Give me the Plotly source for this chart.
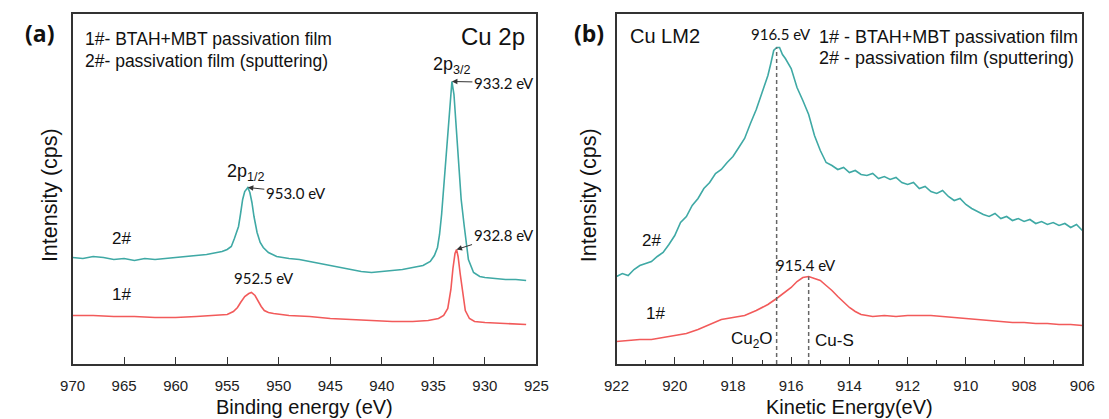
import plotly.graph_objects as go

# ---------------- Panel (a): Cu 2p (binding energy, eV) ----------------
be_2 = [970.0, 969.0, 968.0, 967.0, 966.0, 965.0, 964.0, 963.0, 962.0, 961.0,
        960.0, 959.0, 958.0, 957.0, 956.0, 955.5, 955.0, 954.6, 954.3, 953.9,
        953.7, 953.5, 953.3, 953.0, 952.8, 952.6, 952.4, 952.1, 951.8, 951.5,
        951.0, 950.2, 949.0, 948.0, 947.0, 946.0, 945.0, 944.0, 943.0, 942.0,
        941.0, 940.0, 939.0, 938.0, 937.0, 936.0, 935.3, 934.9, 934.6, 934.4,
        934.2, 934.0, 933.8, 933.6, 933.4, 933.2, 933.0, 932.9, 932.6, 932.3,
        932.0, 931.6, 931.1, 930.5, 930.0, 929.0, 928.0, 927.0, 926.0]
int_2 = [111, 110, 112, 111, 109, 110, 108, 110, 109, 110,
         111, 112, 113, 114, 116, 117, 119, 122, 130, 142,
         155, 169, 177, 181, 176, 166, 152, 136, 126, 121,
         116, 112, 110, 109, 107, 105, 103, 101, 99, 97,
         96, 97, 98, 99, 101, 103, 107, 113, 121, 134,
         154, 179, 209, 234, 259, 287, 274, 259, 209, 169,
         142, 109, 96, 92, 91, 90, 89, 89, 88]

be_1 = [970.0, 968.0, 966.0, 964.0, 962.0, 960.0, 958.0, 956.0, 955.0, 954.4,
        954.0, 953.7, 953.3, 952.9, 952.65, 952.3, 952.0, 951.7, 951.4, 951.0,
        950.5, 949.0, 947.0, 945.0, 943.0, 941.0, 939.0, 937.0, 935.5, 934.5,
        934.0, 933.6, 933.3, 933.1, 932.9, 932.75, 932.6, 932.4, 932.2, 931.9,
        931.5, 931.0, 930.0, 928.0, 926.0]
int_1 = [53, 53, 52, 52, 51, 51, 52, 53, 54, 57,
         61, 66, 72, 75, 76, 73, 67, 62, 58, 56,
         55, 53, 52, 50, 49, 48, 47, 47, 48, 50,
         53, 60, 79, 100, 115, 119, 112, 95, 79, 58,
         50, 47, 46, 45, 44]

ticks_a = [970, 965, 960, 955, 950, 945, 940, 935, 930, 925]

# ---------------- Panel (b): Cu LM2 (kinetic energy, eV) ----------------
ke_2 = [922.0, 921.8, 921.6, 921.4, 921.2, 921.0, 920.8, 920.6, 920.4, 920.2,
        920.0, 919.8, 919.6, 919.4, 919.2, 919.0, 918.8, 918.6, 918.4, 918.2,
        918.0, 917.8, 917.6, 917.4, 917.2, 917.0, 916.8, 916.7, 916.6, 916.5,
        916.4, 916.3, 916.2, 916.0, 915.8, 915.6, 915.4, 915.2, 915.0, 914.8,
        914.6, 914.4, 914.2, 914.0, 913.8, 913.6, 913.4, 913.2, 913.0, 912.8,
        912.6, 912.4, 912.2, 912.0, 911.8, 911.6, 911.4, 911.2, 911.0, 910.8,
        910.6, 910.4, 910.2, 910.0, 909.8, 909.6, 909.4, 909.2, 909.0, 908.8,
        908.6, 908.4, 908.2, 908.0, 907.8, 907.6, 907.4, 907.2, 907.0, 906.8,
        906.6, 906.4, 906.2, 906.0]
int_b2 = [92, 95, 93, 99, 103, 105, 107, 112, 116, 124,
          133, 146, 152, 163, 170, 180, 186, 195, 199, 206,
          212, 221, 230, 245, 259, 276, 293, 305, 318, 321,
          321, 314, 310, 300, 281, 268, 254, 233, 218, 206,
          203, 199, 201, 196, 198, 194, 193, 195, 190, 192,
          189, 191, 186, 184, 186, 180, 182, 177, 175, 178,
          172, 168, 170, 164, 160, 157, 154, 152, 155, 150,
          152, 148, 150, 147, 149, 145, 147, 144, 146, 143,
          145, 141, 144, 138]

ke_1 = [922.0, 921.6, 921.2, 920.8, 920.4, 920.0, 919.6, 919.2, 918.8, 918.4,
        918.0, 917.6, 917.2, 916.8, 916.5, 916.2, 916.0, 915.8, 915.6, 915.4,
        915.2, 915.0, 914.8, 914.6, 914.4, 914.2, 914.0, 913.8, 913.6, 913.2,
        912.8, 912.4, 912.0, 911.6, 911.2, 910.8, 910.4, 910.0, 909.6, 909.2,
        908.8, 908.4, 908.0, 907.6, 907.2, 906.8, 906.4, 906.0]
int_b1 = [27, 28, 29, 29, 31, 33, 35, 39, 44, 49,
          51, 53, 58, 64, 70, 77, 81, 87, 91, 92,
          90, 88, 83, 78, 72, 66, 61, 57, 54, 52,
          53, 52, 53, 53, 53, 52, 51, 50, 49, 48,
          47, 46, 46, 45, 45, 44, 44, 43]

ticks_b = [922, 920, 918, 916, 914, 912, 910, 908, 906]
dashed_ke = [916.5, 915.4]          # peak positions marked by dashed lines

# ---------------- styling ----------------
W, H = 1109, 419
TEAL = "#3fa9a5"
RED = "#f25a5a"
AX = "#333333"
ARIAL = "Liberation Sans, Arial, sans-serif"
CAL = "Lato, Carlito, sans-serif"
BOLD = "Open Sans, Lato, sans-serif"


def px(x):
    return x / W


def py(y):
    return 1 - y / H


fig = go.Figure()
fig.add_trace(go.Scatter(x=be_2, y=int_2, mode="lines", name="2#",
                         line=dict(color=TEAL, width=1.6), xaxis="x", yaxis="y"))
fig.add_trace(go.Scatter(x=be_1, y=int_1, mode="lines", name="1#",
                         line=dict(color=RED, width=1.6), xaxis="x", yaxis="y"))
fig.add_trace(go.Scatter(x=ke_2, y=int_b2, mode="lines", name="2#",
                         line=dict(color=TEAL, width=1.6), xaxis="x2", yaxis="y2"))
fig.add_trace(go.Scatter(x=ke_1, y=int_b1, mode="lines", name="1#",
                         line=dict(color=RED, width=1.6), xaxis="x2", yaxis="y2"))

ydom = [py(364), py(13.5)]
common_x = dict(ticks="inside", ticklen=7, tickwidth=1.3, tickcolor=AX,
                showline=True, linecolor=AX, linewidth=1.6, mirror=True,
                showgrid=False, zeroline=False,
                tickfont=dict(family=ARIAL, size=15, color="#222"),
                ticklabelstandoff=7)
common_y = dict(showticklabels=False, ticks="", showline=True, linecolor=AX,
                linewidth=1.6, mirror=True, showgrid=False, zeroline=False,
                range=[4.5, 355], domain=ydom)

fig.update_layout(
    width=W, height=H, margin=dict(l=0, r=0, t=0, b=0),
    paper_bgcolor="white", plot_bgcolor="white", showlegend=False,
    xaxis=dict(domain=[px(61), px(536)], range=[970, 925], tickvals=ticks_a,
               anchor="y", **common_x),
    yaxis=dict(anchor="x", **common_y),
    xaxis2=dict(domain=[px(618), px(1095)], range=[922, 906], tickvals=ticks_b,
                minor=dict(dtick=1, tick0=906, ticks="inside", ticklen=4,
                           tickwidth=1.2, tickcolor=AX),
                anchor="y2", **common_x),
    yaxis2=dict(anchor="x2", **common_y),
)

# dashed peak lines in panel (b)
series_b = [(ke_2, int_b2), (ke_1, int_b1)]
for e, (xs, ys) in zip(dashed_ke, series_b):
    i = min(range(len(xs)), key=lambda k: abs(xs[k] - e))
    fig.add_shape(type="line", xref="x2", yref="y2", x0=e, x1=e, y0=4.5, y1=ys[i],
                  line=dict(color="#666", width=1.5, dash="4px,3px"))

ann = []


def text(x, y, s, size, family=ARIAL, xanchor="left", angle=0, color="#111",
         yanchor="middle"):
    ann.append(dict(x=px(x), y=py(y), xref="paper", yref="paper", text=s,
                    showarrow=False, xanchor=xanchor, yanchor=yanchor,
                    textangle=angle, font=dict(family=family, size=size, color=color)))


def arrow(xref, yref, x, y, s, ax, ay):
    ann.append(dict(x=x, y=y, xref=xref, yref=yref, text=s, showarrow=True,
                    ax=ax, ay=ay, arrowhead=2, arrowsize=1.1, arrowwidth=1,
                    arrowcolor="#333", standoff=0,
                    font=dict(family=CAL, size=15, color="#111")))


# panel (a)
text(27, 33, "<b>(a)</b>", 23, BOLD, "center")
text(72, 39, "1#- BTAH+MBT passivation film", 17.5)
text(72, 61, "2#- passivation film (sputtering)", 17.5)
text(526, 37, "Cu 2p", 24, ARIAL, "right")
text(450, 66, "2p<sub>3/2</sub>", 18, ARIAL, "center")
text(239, 172, "2p<sub>1/2</sub>", 18, ARIAL, "center")
text(257, 278, "952.5 eV", 15, CAL, "center")
text(111, 238, "2#", 17, ARIAL, "center")
text(111, 294, "1#", 17, ARIAL, "center")
arrow("x", "y", 933.2, 287, "933.2 eV", 52, 1)
arrow("x", "y", 953.0, 181, "953.0 eV", 48, 5)
arrow("x", "y", 932.75, 119, "932.8 eV", 47, -15)
text(38, 195, "Intensity (cps)", 21.5, ARIAL, "center", -90)
text(298.5, 407, "Binding energy (eV)", 20, ARIAL, "center")

# panel (b)
text(590, 33, "<b>(b)</b>", 23, BOLD, "center")
text(630, 36, "Cu LM2", 20)
text(786, 34, "916.5 eV", 15, CAL, "center")
text(823, 37, "1# - BTAH+MBT passivation film", 18)
text(823, 58, "2# - passivation film (sputtering)", 18)
text(654, 240, "2#", 17, ARIAL, "center")
text(658, 313, "1#", 17, ARIAL, "center")
text(812, 265, "915.4 eV", 15, CAL, "center")
text(780, 340, "Cu<sub>2</sub>O", 17, ARIAL, "right")
text(819, 340, "Cu-S", 17, ARIAL, "left")
text(590, 195, "Intensity (cps)", 21.5, ARIAL, "center", -90)
text(856.5, 407, "Kinetic Energy(eV)", 20, ARIAL, "center")

fig.update_layout(annotations=ann)
# the page body has a default 8px margin; remove it so the figure fills the window
fig.write_html("out.html", config={"displayModeBar": False},
               post_script="document.body.style.margin='0';document.body.style.overflow='hidden';")
